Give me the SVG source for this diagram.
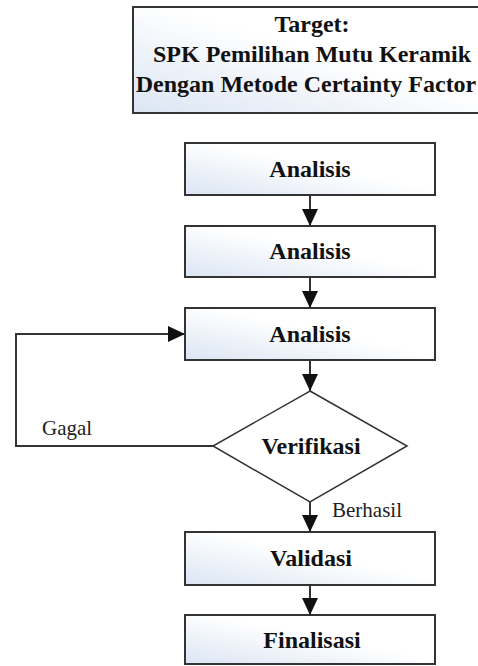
<svg xmlns="http://www.w3.org/2000/svg" width="478" height="666" viewBox="0 0 478 666">
<style>
.box{stroke:#333;stroke-width:2;fill:url(#g)}
.t{font-family:'Liberation Serif','Times New Roman',Times,'Tinos','Noto Serif','DejaVu Serif',serif;font-weight:bold;font-size:24px;fill:#111;text-anchor:middle}
.l{font-family:'Liberation Serif','Times New Roman',Times,'Tinos','Noto Serif','DejaVu Serif',serif;font-size:21px;fill:#222}
.c{stroke:#333;stroke-width:2;fill:none}
</style>
<defs>
<linearGradient id="g" x1="0" y1="1" x2="1" y2="0">
<stop offset="0" stop-color="#dbe5f3"/>
<stop offset="0.55" stop-color="#ffffff"/>
<stop offset="1" stop-color="#ffffff"/>
</linearGradient>
<marker id="ah" markerUnits="userSpaceOnUse" markerWidth="17" markerHeight="16" refX="17" refY="8" orient="auto">
<path d="M0,0 L17,8 L0,16 z" fill="#111"/>
</marker>
</defs>
<rect width="478" height="666" fill="#fff"/>
<g id="target">
<rect class="box" x="133" y="7" width="360" height="106"/>
<text class="t" x="312" y="32">Target:</text>
<text class="t" x="312" y="62">SPK Pemilihan Mutu Keramik</text>
<text class="t" x="306" y="92">Dengan Metode Certainty Factor</text>
</g>
<g id="analisis1">
<rect class="box" x="185" y="143" width="250" height="52"/>
<text class="t" x="310" y="177">Analisis</text>
</g>
<g id="analisis2">
<rect class="box" x="185" y="226" width="250" height="51"/>
<text class="t" x="310" y="259">Analisis</text>
</g>
<g id="analisis3">
<rect class="box" x="185" y="308" width="250" height="52"/>
<text class="t" x="310" y="342">Analisis</text>
</g>
<g id="verifikasi">
<polygon points="310,391 407,446 310,502 213,446" fill="#fff" stroke="#333" stroke-width="1.5"/>
<text class="t" x="311" y="454">Verifikasi</text>
</g>
<g id="validasi">
<rect class="box" x="185" y="532" width="250" height="53"/>
<text class="t" x="311" y="566">Validasi</text>
</g>
<g id="finalisasi">
<rect class="box" x="185" y="615" width="250" height="49"/>
<text class="t" x="312" y="648">Finalisasi</text>
</g>
<g id="connectors">
<line class="c" x1="310" y1="195" x2="310" y2="226" marker-end="url(#ah)"/>
<line class="c" x1="310" y1="277" x2="310" y2="308" marker-end="url(#ah)"/>
<line class="c" x1="310" y1="360" x2="310" y2="391" marker-end="url(#ah)"/>
<polyline class="c" points="213,446 16,446 16,334 185,334" marker-end="url(#ah)"/>
<line class="c" x1="310" y1="502" x2="310" y2="532" marker-end="url(#ah)"/>
<line class="c" x1="310" y1="585" x2="310" y2="615" marker-end="url(#ah)"/>
<text class="l" x="42" y="435">Gagal</text>
<text class="l" x="332" y="517">Berhasil</text>
</g>
</svg>
